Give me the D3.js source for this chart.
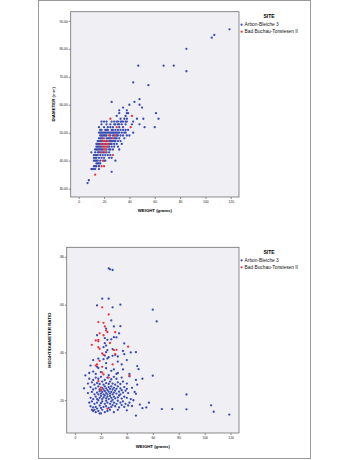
<!DOCTYPE html>
<html>
<head>
<meta charset="utf-8">
<script src="https://cdn.jsdelivr.net/npm/d3@7"></script>
<style>
  body { margin: 0; background: #fff; }
  text { font-family: 'Liberation Sans', Arial, sans-serif; }
</style>
</head>
<body>
<svg width="350" height="460"></svg>
<script>
/* two SPSS-style scatter plots by site */

// DATA ////////////////////////////////////////////////////////////////////////
const sites = ['Arbon-Bleiche 3', 'Bad Buchau-Torwiesen II'];
const siteColors = ['#3a4bb0', '#e8323c'];
const weightTicks = [0, 20, 40, 60, 80, 100, 120];
const diameterTicks = [30, 40, 50, 60, 70, 80, 90];
const ratioTicks = [0.2, 0.4, 0.6, 0.8];

// top chart, rows of [diameter (mm), [weights (g)]]
const diamArbonRows = [
  [87, [119]], [85, [107]], [84, [105]], [80, [85]],
  [74, [47, 67, 75]], [72, [85]], [68, [43]], [67, [55]],
  [62, [48]], [61, [26, 44]], [60, [40, 48]], [59, [35, 50]],
  [58, [32, 38]], [57, [32, 38, 39, 61]], [56, [30, 37]],
  [55, [33, 36, 38, 46, 51, 63]],
  [54, [18, 20, 22, 26, 28, 30, 31, 33, 34, 35, 37, 38, 43]],
  [53, [18, 22, 25, 28, 29, 31, 32, 34, 37, 42, 48]],
  [52, [16, 20, 23, 25, 27, 32, 35, 52, 60]],
  [51, [17, 18, 21, 22, 23, 26, 27, 29, 31, 33, 35, 37, 39]],
  [50, [16, 17, 18, 19, 20, 21, 22, 23, 24, 25, 26, 27, 28, 29, 30, 31, 32, 34, 36, 37, 43]],
  [49, [17, 18, 19, 20, 21, 22, 25, 27, 28, 30, 31, 33, 35, 38, 40]],
  [48, [16, 17, 18, 19, 22, 23, 24, 25, 26, 28, 29, 30, 32, 36]],
  [47, [15, 16, 17, 18, 20, 22, 24, 25, 26, 27, 28, 29, 31, 33]],
  [46, [14, 15, 16, 17, 19, 21, 24, 25, 26, 28, 30, 34]],
  [45, [14, 15, 16, 17, 18, 20, 23, 24, 26, 28, 31]],
  [44, [13, 14, 15, 16, 17, 18, 19, 22, 24, 25, 27, 32]],
  [43, [10, 13, 15, 16, 17, 19, 20, 22, 24]],
  [42, [12, 13, 14, 15, 17, 19, 21, 23, 25]],
  [41, [12, 13, 14, 16, 18, 20, 24, 26]],
  [40, [12, 13, 14, 15, 17, 20, 21, 29]],
  [39, [14, 15, 16, 17]],
  [38, [12, 13, 14, 16]],
  [37, [10, 11, 12, 13, 16]],
  [36, [26]], [33, [8]], [32, [7]]
];
const diamBuchauRows = [
  [56, [42]], [55, [25]], [52, [30, 41]], [49, [24, 29]], [48, [20, 27]],
  [47, [19, 21, 23]], [46, [18, 20, 22, 23]], [45, [19, 21, 22]],
  [44, [20, 21]], [43, [18, 21]], [42, [27]], [40, [19]], [38, [18, 20]],
  [35, [13]]
];

// bottom chart, [weight (g), height/diameter ratio]
const ratioArbon = [
  [13, 0.16], [14, 0.155], [15, 0.16], [16, 0.15], [18, 0.155], [19, 0.145], [20, 0.145],
  [21, 0.16], [23, 0.15], [25, 0.155], [27, 0.16], [30, 0.15], [33, 0.16], [47, 0.136], [40, 0.158],
  [12, 0.175], [14, 0.17], [16, 0.172], [17, 0.165], [19, 0.178], [20, 0.168], [22, 0.172],
  [24, 0.175], [26, 0.168], [28, 0.172], [29, 0.18], [31, 0.175], [34, 0.17], [36, 0.18],
  [38, 0.172], [41, 0.178], [44, 0.176], [52, 0.167], [55, 0.17], [67, 0.163], [75, 0.163],
  [86, 0.162], [107, 0.152], [119, 0.14], [105, 0.179],
  [11, 0.19], [13, 0.195], [15, 0.185], [17, 0.19], [18, 0.2], [20, 0.188], [21, 0.195],
  [23, 0.185], [24, 0.198], [25, 0.19], [27, 0.185], [28, 0.195], [30, 0.19], [32, 0.185],
  [33, 0.198], [35, 0.19], [37, 0.195], [39, 0.185], [42, 0.19], [45, 0.2], [50, 0.182], [57, 0.19],
  [12, 0.21], [14, 0.205], [16, 0.215], [17, 0.205], [19, 0.21], [20, 0.218], [21, 0.205],
  [22, 0.212], [23, 0.22], [24, 0.208], [25, 0.215], [26, 0.205], [27, 0.218], [28, 0.21],
  [29, 0.202], [30, 0.215], [31, 0.208], [33, 0.212], [34, 0.22], [36, 0.207], [38, 0.215],
  [40, 0.21], [43, 0.205], [47, 0.227], [86, 0.224],
  [10, 0.23], [13, 0.235], [15, 0.225], [17, 0.232], [18, 0.225], [19, 0.238], [20, 0.228],
  [21, 0.235], [22, 0.225], [23, 0.238], [24, 0.23], [25, 0.225], [26, 0.236], [27, 0.228],
  [28, 0.235], [29, 0.225], [30, 0.232], [31, 0.24], [32, 0.228], [34, 0.236], [35, 0.225],
  [37, 0.232], [39, 0.24], [41, 0.23], [46, 0.235],
  [7, 0.25], [12, 0.255], [14, 0.245], [16, 0.25], [18, 0.258], [19, 0.245], [21, 0.252],
  [22, 0.245], [23, 0.258], [24, 0.25], [25, 0.242], [26, 0.255], [27, 0.248], [28, 0.258],
  [29, 0.245], [30, 0.252], [32, 0.248], [33, 0.258], [35, 0.25], [36, 0.242], [38, 0.255],
  [40, 0.248], [44, 0.252],
  [10, 0.27], [13, 0.275], [15, 0.265], [17, 0.272], [19, 0.268], [21, 0.278], [22, 0.265],
  [24, 0.272], [26, 0.268], [27, 0.278], [29, 0.27], [31, 0.265], [33, 0.275], [35, 0.268],
  [37, 0.278], [40, 0.27], [48, 0.265],
  [11, 0.29], [14, 0.285], [16, 0.295], [18, 0.29], [20, 0.298], [23, 0.285], [25, 0.295],
  [28, 0.288], [30, 0.298], [32, 0.29], [36, 0.295], [47, 0.285], [52, 0.29], [42, 0.3],
  [8, 0.304], [11, 0.314], [14, 0.32], [16, 0.31], [20, 0.318], [24, 0.334], [28, 0.323],
  [30, 0.329], [32, 0.31], [33, 0.314], [37, 0.329], [42, 0.31], [60, 0.303], [49, 0.33],
  [26, 0.305], [18, 0.335],
  [12, 0.345], [14, 0.368], [17, 0.34], [18, 0.374], [22, 0.372], [25, 0.375], [33, 0.362],
  [36, 0.35], [40, 0.368], [48, 0.343], [23, 0.387], [26, 0.38], [29, 0.386], [33, 0.383],
  [38, 0.393], [24, 0.355], [31, 0.39],
  [24, 0.401], [43, 0.4], [47, 0.401], [25, 0.41], [29, 0.414], [37, 0.406], [22, 0.422],
  [24, 0.429], [23, 0.439], [38, 0.438], [25, 0.453], [28, 0.455], [30, 0.464], [32, 0.463],
  [17, 0.472], [34, 0.48], [23, 0.46],
  [30, 0.509], [35, 0.51], [28, 0.534], [63, 0.53], [60, 0.579], [17, 0.597], [35, 0.6],
  [29, 0.589], [21, 0.625], [26, 0.625], [26, 0.752], [27, 0.748], [29, 0.745], [24, 0.5]
];
const ratioBuchau = [
  [21, 0.589], [26, 0.559], [18, 0.527], [22, 0.524], [23, 0.509], [24, 0.492], [25, 0.485],
  [31, 0.485], [19, 0.48], [22, 0.472], [18, 0.453], [16, 0.45], [13, 0.432], [18, 0.447],
  [18, 0.422], [19, 0.415], [27, 0.44], [32, 0.411], [30, 0.41], [41, 0.424], [31, 0.393],
  [21, 0.396], [22, 0.39], [19, 0.365], [17, 0.35], [16, 0.345], [21, 0.34], [21, 0.316],
  [22, 0.308], [26, 0.295], [42, 0.303], [20, 0.253], [20, 0.243], [25, 0.164], [18, 0.28],
  [29, 0.35]
];

// flatten the row lists into [weight, diameter]
const rowsToPoints = rows => rows.flatMap(([d, ws]) => ws.map(w => [w, d]));

// SET PARAMETERS //////////////////////////////////////////////////////////////
const svg = d3.select('svg');

svg.append('rect')
  .attr('x', 38.5).attr('y', 0.5)
  .attr('width', 272).attr('height', 458)
  .attr('fill', 'none')
  .attr('stroke', '#9a9a9a')
  .attr('stroke-width', 1);

const panels = [
  {
    box: { left: 70.7, top: 11.7, right: 239, bottom: 197 },
    xDomain: [-6.3, 126.5],
    yDomain: [27, 93.3],
    yTicks: diameterTicks,
    yFormat: d3.format('.2f'),
    yTitle: ['DIAMETER', ' (mm)'],
    series: [rowsToPoints(diamArbonRows), rowsToPoints(diamBuchauRows)]
  },
  {
    box: { left: 66.7, top: 247.3, right: 239, bottom: 433 },
    xDomain: [-6.4, 126.5],
    yDomain: [0.063, 0.84],
    yTicks: ratioTicks,
    yFormat: d => d3.format('.2f')(d).replace(/^0/, ''),
    yTitle: ['HEIGHT/DIAMETER RATIO', ''],
    series: [ratioArbon, ratioBuchau]
  }
];

// DRAW ///////////////////////////////////////////////////////////////////////
panels.forEach(p => {
  const b = p.box;
  const x = d3.scaleLinear().domain(p.xDomain).range([b.left, b.right]);
  const y = d3.scaleLinear().domain(p.yDomain).range([b.bottom, b.top]);

  svg.append('rect')
    .attr('x', b.left).attr('y', b.top)
    .attr('width', b.right - b.left).attr('height', b.bottom - b.top)
    .attr('fill', '#f0f0f4');

  // points
  p.series.forEach((pts, i) => {
    svg.append('g')
      .selectAll('circle')
      .data(pts)
      .enter()
      .append('circle')
      .attr('cx', d => x(d[0]))
      .attr('cy', d => y(d[1]))
      .attr('r', 1.15)
      .attr('fill', siteColors[i]);
  });

  // x axis
  const gx = svg.append('g')
    .attr('transform', `translate(0,${b.bottom})`)
    .call(d3.axisBottom(x).tickValues(weightTicks).tickSize(2).tickPadding(1.2));

  // y axis
  const gy = svg.append('g')
    .attr('transform', `translate(${b.left},0)`)
    .call(d3.axisLeft(y).tickValues(p.yTicks).tickFormat(p.yFormat).tickSize(2).tickPadding(0.8));

  [gx, gy].forEach(g => {
    g.select('.domain').remove();
    g.selectAll('line').attr('stroke', '#444').attr('stroke-width', 0.6);
    g.selectAll('text')
      .attr('fill', '#222')
      .style('font-size', '3.4px')
      .style('font-family', "'Liberation Sans', Arial, sans-serif");
  });

  // plot frame
  svg.append('rect')
    .attr('x', b.left).attr('y', b.top)
    .attr('width', b.right - b.left).attr('height', b.bottom - b.top)
    .attr('fill', 'none')
    .attr('stroke', '#6e6e6e')
    .attr('stroke-width', 0.8);

  // axis titles
  svg.append('text')
    .attr('x', (b.left + b.right) / 2)
    .attr('y', b.bottom + 14.5)
    .attr('text-anchor', 'middle')
    .style('font-size', '4.3px')
    .style('font-weight', 'bold')
    .text('WEIGHT (grams)');

  const yt = svg.append('text')
    .attr('transform', `translate(${b.left - 15.5},${(b.top + b.bottom) / 2}) rotate(-90)`)
    .attr('text-anchor', 'middle')
    .style('font-size', '4.4px');
  yt.append('tspan').style('font-weight', 'bold').text(p.yTitle[0]);
  if (p.yTitle[1]) yt.append('tspan').text(p.yTitle[1]);

  // legend
  const lg = svg.append('g').attr('transform', `translate(${b.right},${b.top})`);
  lg.append('text')
    .attr('x', 30)
    .attr('y', 6.6)
    .attr('text-anchor', 'middle')
    .style('font-size', '5px')
    .style('font-weight', 'bold')
    .text('SITE');

  const item = lg.selectAll('.item')
    .data(sites)
    .enter()
    .append('g')
    .attr('class', 'item')
    .attr('transform', (d, i) => `translate(0,${13 + i * 7})`);

  item.append('circle')
    .attr('cx', 2.6)
    .attr('cy', 0)
    .attr('r', 1.1)
    .attr('fill', (d, i) => siteColors[i]);

  item.append('text')
    .attr('x', 5.6)
    .attr('y', 1.7)
    .style('font-size', '4.8px')
    .attr('fill', '#111')
    .text(d => d);
});
</script>
</body>
</html>
